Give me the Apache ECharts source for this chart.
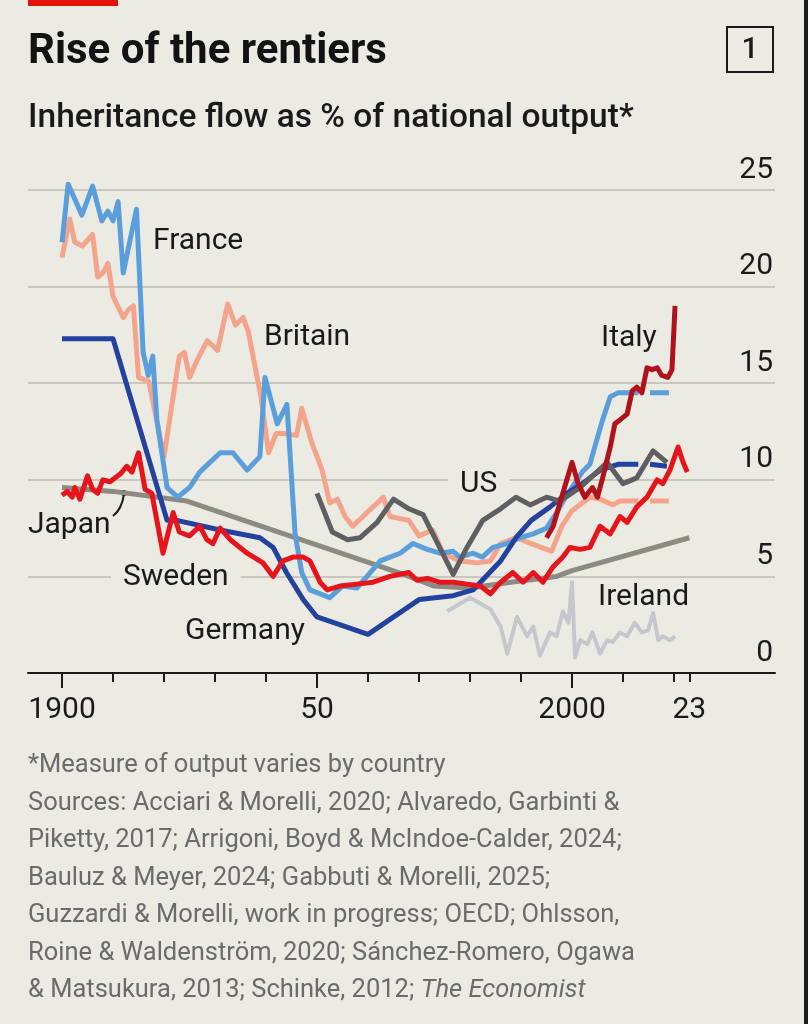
<!DOCTYPE html>
<html>
<head>
<meta charset="utf-8">
<script src="https://cdn.jsdelivr.net/npm/echarts@6.0.0/dist/echarts.min.js"></script>
<style>
html,body{margin:0;padding:0;background:#ecebe3;}
#chart{width:808px;height:1024px;}
</style>
</head>
<body>
<div id="chart"></div>
<script>
// ---- Data (year, % of national output) ----
const france = [[1900,22.3],[1901.2,25.3],[1903.9,23.7],[1906,25.2],[1907.8,23.4],[1909,23.9],[1910,23.4],[1911,24.4],[1912,20.7],[1914.6,24.0],[1915.9,16.6],[1916.9,15.4],[1917.8,16.4],[1918.6,13.1],[1920.6,9.6],[1922.7,9.1],[1925,9.6],[1927,10.4],[1929,10.9],[1931,11.4],[1933.5,11.4],[1936.3,10.5],[1938.8,11.2],[1939.8,15.3],[1942.2,12.9],[1944.1,13.9],[1945.7,7.2],[1947,5.2],[1948.6,4.3],[1952.5,3.9],[1955,4.5],[1957.8,4.4],[1959.8,5.0],[1962.4,5.8],[1964.3,6.0],[1966.3,6.2],[1968.8,6.7],[1971.6,6.4],[1974.1,6.2],[1976.7,6.3],[1978,6.0],[1980.6,6.2],[1982.4,6.0],[1984.5,6.5],[1987.3,6.7],[1989.8,7.0],[1992.4,7.2],[1995,7.5],[1997,8.3],[1998.5,9.0],[2002,10.4],[2003.5,10.8],[2005,12.2],[2006,13.1],[2007.5,14.3],[2009,14.5],[2013,14.5],[2014,'-'],[2015.3,14.5],[2019,14.5]];
const britain = [[1900,21.5],[1901.5,23.5],[1902.5,22.3],[1904,22.1],[1906,22.7],[1907,20.5],[1908,20.7],[1909,21.2],[1910,19.5],[1912,18.4],[1913,18.8],[1914,19.0],[1915,15.3],[1917,15.1],[1920,11.2],[1923,16.4],[1924,16.6],[1925,15.3],[1926.5,16.2],[1928.5,17.2],[1930.5,16.7],[1932.5,19.1],[1934,18.0],[1935.5,18.4],[1936.5,17.7],[1939,14.3],[1940.5,11.4],[1942,12.4],[1943.5,12.4],[1946,12.3],[1947,13.7],[1949,11.9],[1951,10.5],[1952.5,8.8],[1954,9.0],[1955.5,8.1],[1957,7.6],[1959,8.1],[1961,8.6],[1963,9.1],[1964.3,8.1],[1968,7.9],[1970,7.1],[1972.7,7.4],[1974.7,6.2],[1978,5.8],[1981.4,5.7],[1984,5.8],[1986,6.7],[1989,7.0],[1992,6.7],[1995,6.4],[1996,6.3],[1998,7.6],[2000,8.4],[2002,8.8],[2003.5,9.1],[2005.5,9.0],[2008,8.7],[2009.4,8.9],[2013,8.9],[2014,'-'],[2015.3,8.9],[2019,8.9]];
const germany = [[1900,17.3],[1910,17.3],[1920.6,7.9],[1922.5,7.9],[1931,7.4],[1938.8,7.0],[1941.4,6.5],[1944,5.2],[1947.3,3.8],[1950,2.9],[1960,2.0],[1970,3.8],[1976.7,4.0],[1980.6,4.3],[1986,5.8],[1989,7.0],[1992,7.9],[1995.7,8.6],[1999,9.3],[2002,9.8],[2005.5,10.5],[2009,10.8],[2013,10.8],[2014,'-'],[2015.3,10.8],[2018.6,10.7]];
const sweden = [[1900,9.2],[1901,9.4],[1902,9.1],[1902.5,9.6],[1903.5,9.0],[1905,10.2],[1906,9.5],[1907,9.3],[1908,10.0],[1909.4,9.9],[1911.4,10.3],[1912.7,10.7],[1913.7,10.4],[1915,11.4],[1916.3,9.5],[1917.6,9.3],[1919.8,6.2],[1921.8,8.3],[1923,7.3],[1925,7.1],[1927,7.6],[1928.4,6.9],[1929.6,6.7],[1931,7.5],[1933,6.9],[1936.3,6.2],[1939.4,5.7],[1941.4,5.0],[1943.3,5.8],[1945.3,6.0],[1947.3,6.0],[1948.6,5.8],[1950.6,4.7],[1952,4.3],[1954.5,4.5],[1957.8,4.6],[1961,4.7],[1964.3,5.0],[1968,5.2],[1969.6,4.8],[1971.6,4.9],[1974,4.7],[1976.7,4.7],[1979.4,4.6],[1982,4.5],[1984,4.1],[1986,4.7],[1988.4,5.2],[1990.4,4.7],[1992.4,5.2],[1994.3,4.7],[1996.3,5.5],[1998.2,6.0],[1999.6,6.5],[2001.6,6.4],[2003.5,6.5],[2005.5,7.6],[2007.5,7.2],[2009.4,8.1],[2010.8,7.8],[2012.7,8.6],[2014.7,9.1],[2016.7,10.0],[2017.8,9.8],[2019.2,10.5],[2020.8,11.7],[2021.8,10.9],[2022.6,10.4]];
const japan = [[1900,9.6],[1910,9.4],[1924.5,8.9],[1966,5.2],[1973,4.5],[1980,4.4],[1988,4.7],[1997,5.0],[2000,5.3],[2023,7.0]];
const us = [[1950,9.3],[1953,7.3],[1956,6.9],[1958.4,7.0],[1961.8,7.8],[1965,9.0],[1968,8.5],[1970.8,8.2],[1976.7,5.1],[1979.4,6.5],[1982.5,7.9],[1986,8.5],[1989,9.1],[1991.8,8.7],[1995,9.1],[1997.6,8.9],[2001.6,9.6],[2006.9,10.9],[2010,9.8],[2012.7,10.1],[2015.9,11.5],[2018.6,10.9]];
const italy = [[1995,7.0],[1996.3,7.6],[1998.2,9.3],[2000,10.9],[2001.2,9.8],[2002.5,9.1],[2004,9.6],[2005,9.1],[2006,10.1],[2007.5,11.7],[2008.4,12.9],[2009.4,13.1],[2010.8,13.4],[2011.8,14.6],[2012.7,14.8],[2013.7,14.5],[2014.7,15.8],[2015.7,15.7],[2016.7,15.8],[2017.6,15.4],[2018.8,15.3],[2019.6,15.7],[2020.2,19.0]];
const ireland = [[1975.5,3.2],[1980,3.9],[1984,3.3],[1986,2.4],[1987.3,1.0],[1989.2,2.9],[1991.2,1.9],[1992.4,2.4],[1993.7,0.9],[1995.7,2.1],[1997,1.9],[1998.2,3.2],[1999.3,2.6],[2000,4.7],[2000.6,0.8],[2001.6,1.7],[2003,1.5],[2004,2.1],[2005.5,1.0],[2006.9,1.7],[2008,1.6],[2009.4,2.1],[2010.8,1.9],[2012.3,2.6],[2013.7,2.1],[2014.9,2.2],[2015.9,3.1],[2016.9,1.7],[2017.8,1.9],[2019.2,1.7],[2020.2,1.9]];

const xLabelYears = [1900, 1950, 2000, 2023];
const xLabelTexts = ['1900', '50', '2000', '23'];
const xMajorTicks = [1900, 1950, 2000];
const xMinorTicks = [1910, 1920, 1930, 1940, 1960, 1970, 1980, 1990, 2010, 2020, 2023];

const footLines = [
  '*Measure of output varies by country',
  'Sources: Acciari & Morelli, 2020; Alvaredo, Garbinti &',
  'Piketty, 2017; Arrigoni, Boyd & McIndoe-Calder, 2024;',
  'Bauluz & Meyer, 2024; Gabbuti & Morelli, 2025;',
  'Guzzardi & Morelli, work in progress; OECD; Ohlsson,',
  'Roine & Waldenström, 2020; Sánchez-Romero, Ogawa',
  '{n|& Matsukura, 2013; Schinke, 2012; }{i|The Economist}'
];

const FONT = 'Roboto, "Noto Sans", sans-serif';
const BG = '#ecebe3';
const chart = echarts.init(document.getElementById('chart'));

function line(name, data, color, width, z) {
  return {
    name, type: 'line', data, showSymbol: false, clip: false,
    connectNulls: false, z: z,
    lineStyle: { color, width, join: 'round', cap: 'butt' },
    itemStyle: { color }, emphasis: { disabled: true }, silent: true
  };
}

function label(text, x, y, bg) {
  const el = {
    type: 'text', x, y, z: 1,
    style: { text, font: '400 30px ' + FONT, fill: '#1a1a1a', verticalAlign: 'middle', align: 'left' }
  };
  if (bg) { el.style.backgroundColor = BG; el.style.padding = [0, 12, 0, 12]; el.x = x - 12; }
  return el;
}

const graphics = [
  { type: 'rect', shape: { x: 28, y: 0, width: 90, height: 6 }, style: { fill: '#e3120b' } },
  { type: 'rect', shape: { x: 804, y: 0, width: 4, height: 1024 }, style: { fill: '#1c1c1c' } },
  { type: 'text', x: 28, y: 52, style: { text: 'Rise of the rentiers', font: '700 42px ' + FONT, fill: '#121212', verticalAlign: 'middle' } },
  { type: 'rect', shape: { x: 727, y: 27, width: 46, height: 45 }, style: { fill: 'none', stroke: '#1a1a1a', lineWidth: 2 } },
  { type: 'text', x: 750, y: 50, style: { text: '1', font: '500 30px ' + FONT, fill: '#1a1a1a', align: 'center', verticalAlign: 'middle' } },
  { type: 'text', x: 28, y: 119, style: { text: 'Inheritance flow as % of national output*', font: '500 33.5px ' + FONT, fill: '#1a1a1a', verticalAlign: 'middle' } },
  label('France', 153, 241),
  label('Britain', 264, 337),
  label('Italy', 601, 338),
  label('US', 460, 484, true),
  label('Japan', 28, 525),
  label('Sweden', 123, 577, true),
  label('Germany', 185, 631),
  label('Ireland', 598, 597),
  { type: 'bezierCurve', z: 3, shape: { x1: 113, y1: 516, x2: 124, y2: 494, cpx1: 122, cpy1: 509 }, style: { fill: 'none', stroke: '#1a1a1a', lineWidth: 2 } },
  { type: 'circle', z: 3, shape: { cx: 124, cy: 493, r: 3 }, style: { fill: '#1a1a1a' } }
];
footLines.forEach((t, i) => {
  graphics.push({
    type: 'text', x: 28, y: 766 + i * 37.5,
    style: {
      text: t, font: '400 25.5px ' + FONT, fill: '#6b6b6b', verticalAlign: 'middle',
      rich: { n: { fontSize: 25.5, fontFamily: FONT, fill: '#6b6b6b' }, i: { fontSize: 25.5, fontFamily: FONT, fontStyle: 'italic', fill: '#6b6b6b' } }
    }
  });
});

chart.setOption({
  animation: false,
  backgroundColor: BG,
  grid: { left: 28, right: 33, top: 190, bottom: 351 },
  xAxis: [
    {
      type: 'value', min: 1893.33, max: 2039.8, position: 'bottom',
      axisLine: { show: true, lineStyle: { color: '#1a1a1a', width: 2 } },
      axisTick: { show: true, customValues: xMajorTicks, length: 15, lineStyle: { color: '#1a1a1a', width: 2 } },
      axisLabel: {
        customValues: xLabelYears, margin: 22, fontSize: 30, color: '#1a1a1a', fontFamily: FONT,
        formatter: v => xLabelTexts[xLabelYears.indexOf(Math.round(v))]
      },
      splitLine: { show: false }
    },
    {
      type: 'value', min: 1893.33, max: 2039.8, position: 'bottom', gridIndex: 0,
      axisLine: { show: false },
      axisTick: { show: true, customValues: xMinorTicks, length: 9, lineStyle: { color: '#1a1a1a', width: 2 } },
      axisLabel: { show: false },
      splitLine: { show: false }
    }
  ],
  yAxis: {
    type: 'value', min: 0, max: 25, interval: 5, position: 'right',
    axisLine: { show: false }, axisTick: { show: false },
    axisLabel: { inside: true, margin: 2, fontSize: 30, color: '#1a1a1a', fontFamily: FONT, verticalAlign: 'bottom', lineHeight: 40 },
    splitLine: { lineStyle: { color: '#c9c8bf', width: 2 } }
  },
  series: [
    line('Ireland', ireland, '#c6c7cc', 4, 2),
    line('Japan', japan, '#8b8b82', 5, 3),
    line('Britain', britain, '#f5a48c', 5, 4),
    line('France', france, '#5b9edc', 5, 5),
    line('Germany', germany, '#2342a0', 5, 6),
    line('US', us, '#5e5f60', 5, 7),
    line('Sweden', sweden, '#e8141c', 5, 8),
    line('Italy', italy, '#b1111b', 5, 9)
  ],
  graphic: graphics
});
</script>
</body>
</html>
